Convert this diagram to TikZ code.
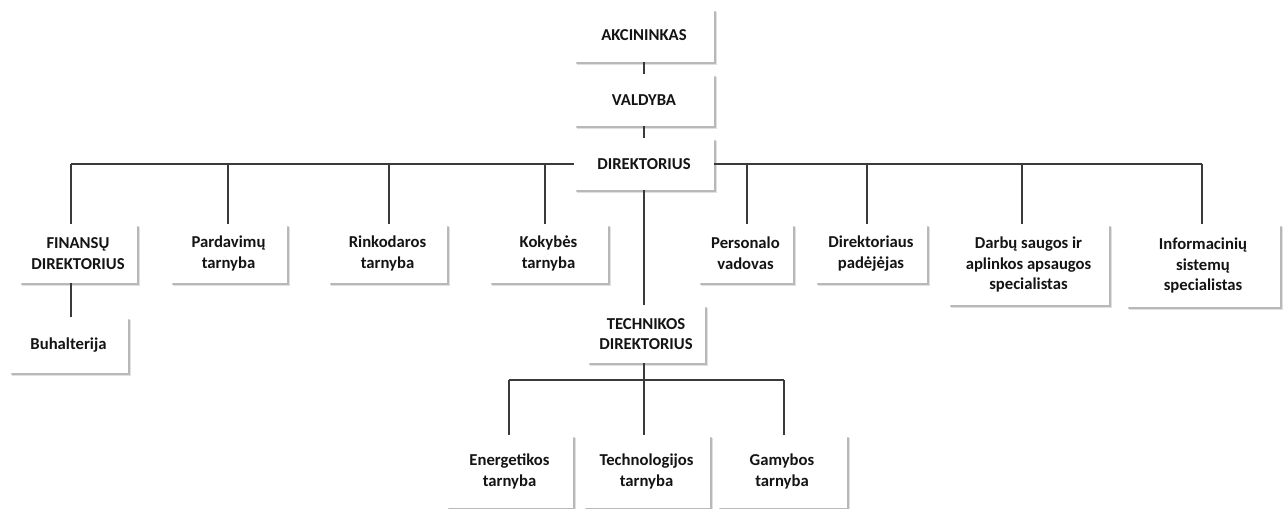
\documentclass[tikz,border=0pt]{standalone}
\usepackage{fontspec}
\setmainfont{Carlito}
\usetikzlibrary{shadows}
\definecolor{txt}{HTML}{141414}
\definecolor{ln}{HTML}{3A3A3A}
\tikzset{
  box/.style={rectangle, fill=white, draw=none, align=center, inner sep=0pt,
    font=\fontsize{12.5}{15.5}\selectfont\bfseries, text=txt,
    drop shadow={shadow xshift=2.2pt, shadow yshift=-2.2pt, opacity=0.12, fill=black},
    drop shadow={shadow xshift=1.3pt, shadow yshift=-1.3pt, opacity=0.18, fill=black}},
  conn/.style={draw=ln, line width=0.8pt}
}
\begin{document}
\begin{tikzpicture}[x=0.75pt,y=-0.75pt]
\useasboundingbox (0,0) rectangle (1286,509);
\node[box, minimum width=105pt, minimum height=39.75pt] (akc) at (644,35.5) {AKCININKAS};
\node[box, minimum width=105pt, minimum height=39pt] (val) at (644,100) {VALDYBA};
\node[box, minimum width=105pt, minimum height=39pt] (dir) at (644,164) {DIREKTORIUS};
\node[box, minimum width=88.5pt, minimum height=44.25pt] (fin) at (78,253.5) {FINANSŲ\\DIREKTORIUS};
\node[box, minimum width=89.25pt, minimum height=42pt] (buh) at (68.5,345) {Buhalterija};
\node[box, minimum width=87.75pt, minimum height=44.25pt] (par) at (228.5,253.5) {Pardavimų\\tarnyba};
\node[box, minimum width=89.25pt, minimum height=44.25pt] (rin) at (387.5,253.5) {Rinkodaros\\tarnyba};
\node[box, minimum width=89.25pt, minimum height=44.25pt] (kok) at (548.5,253.5) {Kokybės\\tarnyba};
\node[box, minimum width=71.25pt, minimum height=44.25pt] (per) at (745.5,253.5) {Personalo\\vadovas};
\node[box, minimum width=84pt, minimum height=44.25pt] (pad) at (871,253.5) {Direktoriaus\\padėjėjas};
\node[box, minimum width=120.75pt, minimum height=60.75pt] (dar) at (1028.5,264.5) {Darbų saugos ir\\aplinkos apsaugos\\specialistas};
\node[box, minimum width=115.5pt, minimum height=62.25pt] (inf) at (1203,265.5) {Informacinių\\sistemų\\specialistas};
\node[box, minimum width=88.5pt, minimum height=43.5pt] (tec) at (646,334) {TECHNIKOS\\DIREKTORIUS};
\node[box, minimum width=95.25pt, minimum height=54.75pt] (ene) at (509.5,471.5) {Energetikos\\tarnyba};
\node[box, minimum width=95.25pt, minimum height=54.75pt] (tch) at (646.5,471.5) {Technologijos\\tarnyba};
\node[box, minimum width=97.5pt, minimum height=54.75pt] (gam) at (782,471.5) {Gamybos\\tarnyba};
% connectors
\draw[conn] (akc.south) -- (val.north);
\draw[conn] (val.south) -- (dir.north);
\coordinate (busL) at (71,164);
\coordinate (busR) at (1202,164);
\draw[conn] (busL) -- (dir.west);
\draw[conn] (dir.east) -- (busR);
\draw[conn] (busL) -- (71,164 |- fin.north);
\draw[conn] (228,164) -- (228,164 |- par.north);
\draw[conn] (389,164) -- (389,164 |- rin.north);
\draw[conn] (545,164) -- (545,164 |- kok.north);
\draw[conn] (747,164) -- (747,164 |- per.north);
\draw[conn] (867,164) -- (867,164 |- pad.north);
\draw[conn] (1022,164) -- (1022,164 |- dar.north);
\draw[conn] (busR) -- (1202,164 |- inf.north);
\draw[conn] (71,0 |- fin.south) -- (71,0 |- buh.north);
\draw[conn] (dir.south) -- (644,0 |- tec.north);
\coordinate (tL) at (509,380);
\coordinate (tR) at (784,380);
\draw[conn] (644,0 |- tec.south) -- (644,0 |- tch.north);
\draw[conn] (tL) -- (tR);
\draw[conn] (tL) -- (509,0 |- ene.north);
\draw[conn] (tR) -- (784,0 |- gam.north);
\end{tikzpicture}
\end{document}
